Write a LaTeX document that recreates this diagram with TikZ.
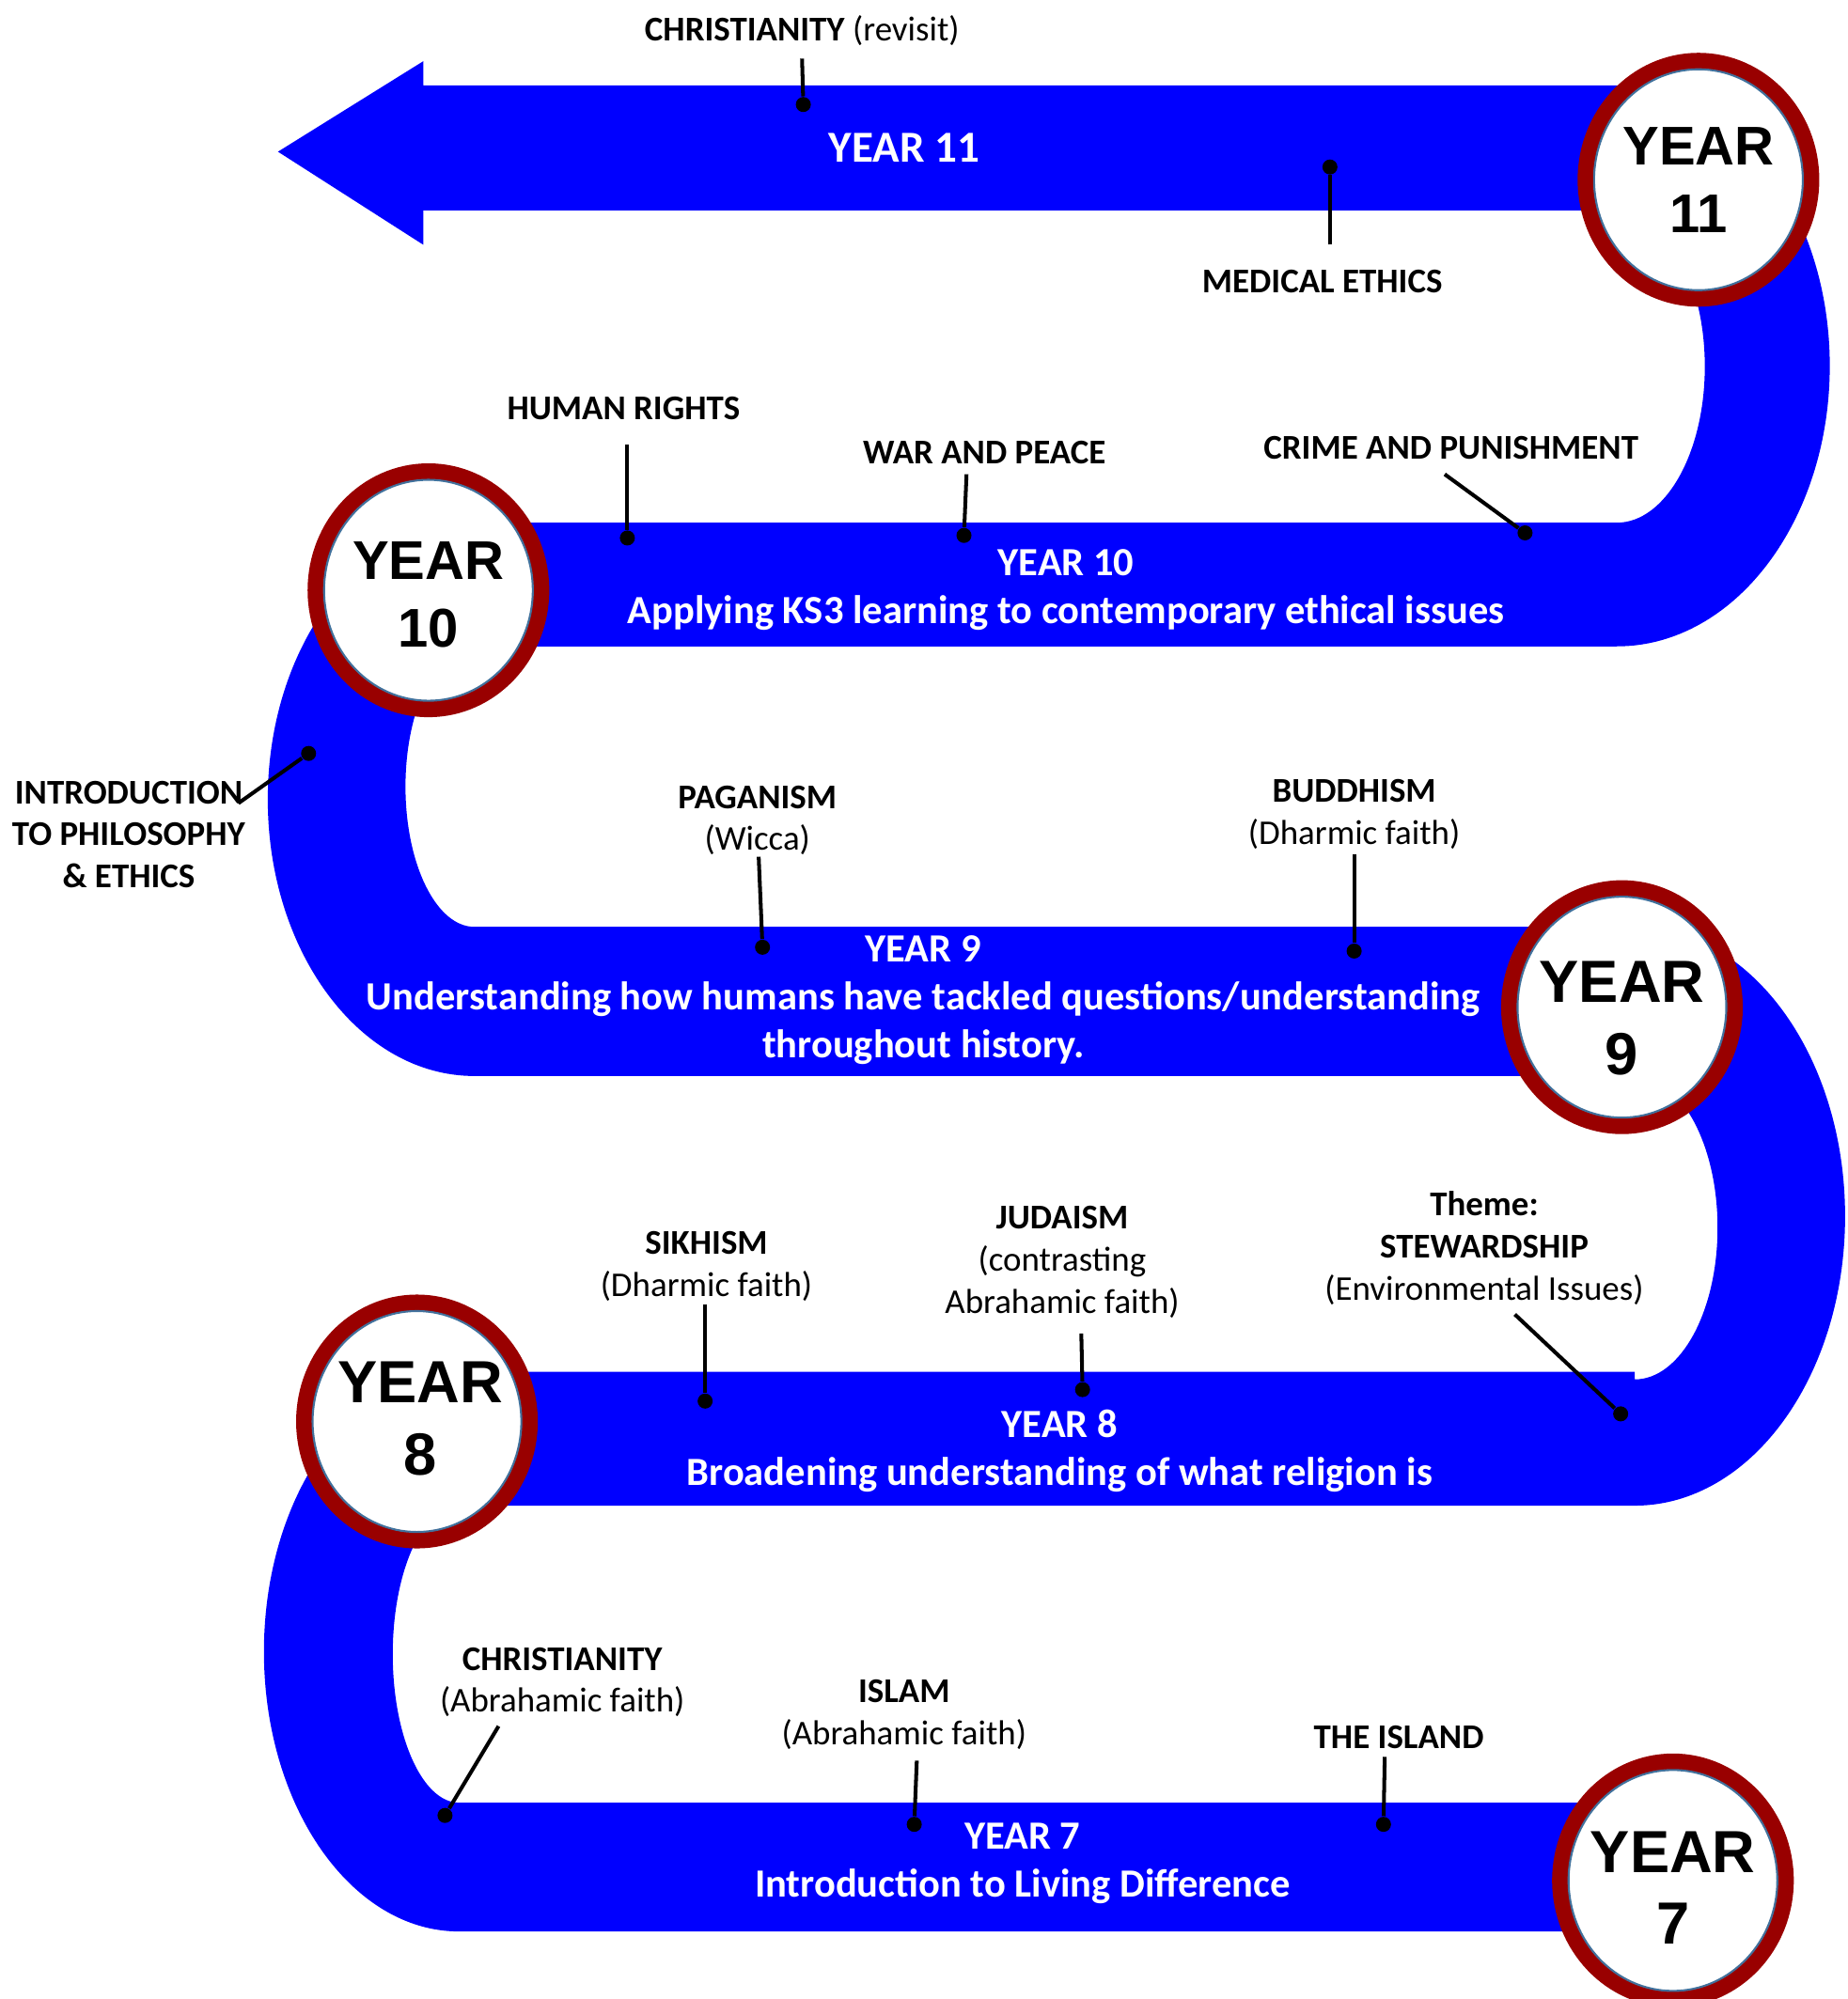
\documentclass[tikz,border=0pt]{standalone}
\usepackage{fontspec}
\setmainfont{Carlito}
\newfontfamily\arialfont{Liberation Sans}
\usetikzlibrary{shapes.geometric}
\definecolor{bandblue}{HTML}{0000FF}
\definecolor{ringred}{HTML}{990000}
\definecolor{rimblue}{HTML}{41719C}
\tikzset{
  band/.style={fill=bandblue},
  topic/.style={text=black, align=center, inner sep=0pt, font=\fontsize{10.5}{12.7}\selectfont},
  yeartext/.style={text=white, align=center, inner sep=0pt, font=\bfseries\fontsize{12.1}{14.5}\selectfont},
  tack/.style={circle, fill=black, inner sep=0pt, minimum size=1.6mm},
  tackline/.style={line width=1.15pt},
  ring/.style={ellipse, fill=white, draw=rimblue, line width=0.6pt, inner sep=0pt,
    minimum width=22.2mm, minimum height=23.5mm,
    preaction={draw=ringred, line width=3.5mm}},
  ringtext/.style={text=black, align=center, inner sep=0pt, font=\arialfont\bfseries\fontsize{16.5}{20.4}\selectfont},
  bigringtext/.style={ringtext, font=\arialfont\bfseries\fontsize{18}{21.8}\selectfont}
}
\begin{document}
\begin{tikzpicture}[x=0.13561mm, y=-0.13561mm]
\useasboundingbox (0,0) rectangle (1449,1568);

% the road
\fill[band] (218,119) -- (332,48) -- (332,67) -- (1268,67)
  arc[start angle=-90, end angle=90, x radius=167, y radius=220]
  -- (372,507)
  arc[start angle=-90, end angle=-270, x radius=54, y radius=110]
  -- (1282,727)
  arc[start angle=-90, end angle=90, x radius=165, y radius=227]
  -- (360,1181)
  arc[start angle=-90, end angle=-270, x radius=52, y radius=116.5]
  -- (1312,1414) -- (1312,1515) -- (360,1515)
  arc[start angle=90, end angle=270, x radius=153, y radius=219.5]
  -- (1282,1076) -- (1282,1082)
  arc[start angle=90, end angle=-90, x radius=65, y radius=119]
  -- (372,844)
  arc[start angle=90, end angle=270, x radius=162, y radius=217]
  -- (1268,410)
  arc[start angle=90, end angle=-90, x radius=69, y radius=122.5]
  -- (332,165) -- (332,192) -- cycle;

% band texts
\node[yeartext, font=\bfseries\fontsize{13.4}{16}\selectfont] (y11t) at (709,116) {YEAR 11};
\node[yeartext] (y10t) at (836,462.5) {YEAR 10\\Applying KS3 learning to contemporary ethical issues};
\node[yeartext] (y9t) at (724,784.5) {YEAR 9\\Understanding how humans have tackled questions/understanding\\throughout history.};
\node[yeartext] (y8t) at (831,1138) {YEAR 8\\Broadening understanding of what religion is};
\node[yeartext] (y7t) at (802,1461.5) {YEAR 7\\Introduction to Living Difference};

% year 11
\node[topic] (chr11) at (629,24) {\textbf{CHRISTIANITY} (revisit)};
\coordinate (chr11-end) at (629,46);
\node[tack] (chr11-dot) at (630,82) {};
\node[topic] (med) at (1037,221) {\textbf{MEDICAL ETHICS}};
\coordinate (med-end) at (1043,192);
\node[tack] (med-dot) at (1043,131) {};

% year 10
\node[topic] (hr) at (489,320) {\textbf{HUMAN RIGHTS}};
\coordinate (hr-end) at (492,349);
\node[tack] (hr-dot) at (492,422) {};
\node[topic] (wp) at (772,355) {\textbf{WAR AND PEACE}};
\coordinate (wp-end) at (758,372);
\node[tack] (wp-dot) at (756,420) {};
\node[topic] (crime) at (1138,351) {\textbf{CRIME AND PUNISHMENT}};
\coordinate (crime-end) at (1133,372);
\node[tack] (crime-dot) at (1196,418) {};

% year 9
\node[topic] (phil) at (101,654.5) {\textbf{INTRODUCTION}\\\textbf{TO PHILOSOPHY}\\\textbf{\& ETHICS}};
\coordinate (phil-end) at (187,630);
\node[tack] (phil-dot) at (242,591) {};
\node[topic] (pag) at (594,643.5) {\textbf{PAGANISM}\\(Wicca)};
\coordinate (pag-end) at (595,672);
\node[tack] (pag-dot) at (598,743) {};
\node[topic] (bud) at (1062,638.5) {\textbf{BUDDHISM}\\(Dharmic faith)};
\coordinate (bud-end) at (1062,670);
\node[tack] (bud-dot) at (1062,746) {};

% year 8
\node[topic] (sikh) at (554,993.5) {\textbf{SIKHISM}\\(Dharmic faith)};
\coordinate (sikh-end) at (553,1023);
\node[tack] (sikh-dot) at (553,1099) {};
\node[topic] (jud) at (833,990) {\textbf{JUDAISM}\\(contrasting\\Abrahamic faith)};
\coordinate (jud-end) at (848,1046);
\node[tack] (jud-dot) at (849,1090) {};
\node[topic] (stew) at (1164,979) {\textbf{Theme:}\\\textbf{STEWARDSHIP}\\(Environmental Issues)};
\coordinate (stew-end) at (1188,1031);
\node[tack] (stew-dot) at (1271,1109) {};

% year 7
\node[topic] (chr7) at (441,1319.5) {\textbf{CHRISTIANITY}\\(Abrahamic faith)};
\coordinate (chr7-end) at (391,1354);
\node[tack] (chr7-dot) at (349,1424) {};
\node[topic] (isl) at (709,1345) {\textbf{ISLAM}\\(Abrahamic faith)};
\coordinate (isl-end) at (719,1381);
\node[tack] (isl-dot) at (717,1431) {};
\node[topic] (isle) at (1097,1363) {\textbf{THE ISLAND}};
\coordinate (isle-end) at (1086,1378);
\node[tack] (isle-dot) at (1085,1431) {};

\foreach \t in {chr11,med,hr,wp,crime,phil,pag,bud,sikh,jud,stew,chr7,isl,isle}
  \draw[tackline] (\t-end) -- (\t-dot);

% year rings
\node[ring, label={[ringtext]center:YEAR\\11}] (y11) at (1332,141) {};
\node[ring, label={[ringtext, yshift=-0.47mm]center:YEAR\\10}] (y10) at (336,463) {};
\node[ring, label={[bigringtext, yshift=-1.2mm]center:YEAR\\9}] (y9) at (1272,790) {};
\node[ring, label={[bigringtext, xshift=0.35mm, yshift=0.3mm]center:YEAR\\8}] (y8) at (327,1115) {};
\node[ring, label={[bigringtext, yshift=-0.8mm]center:YEAR\\7}] (y7) at (1312,1475) {};
\end{tikzpicture}
\end{document}
